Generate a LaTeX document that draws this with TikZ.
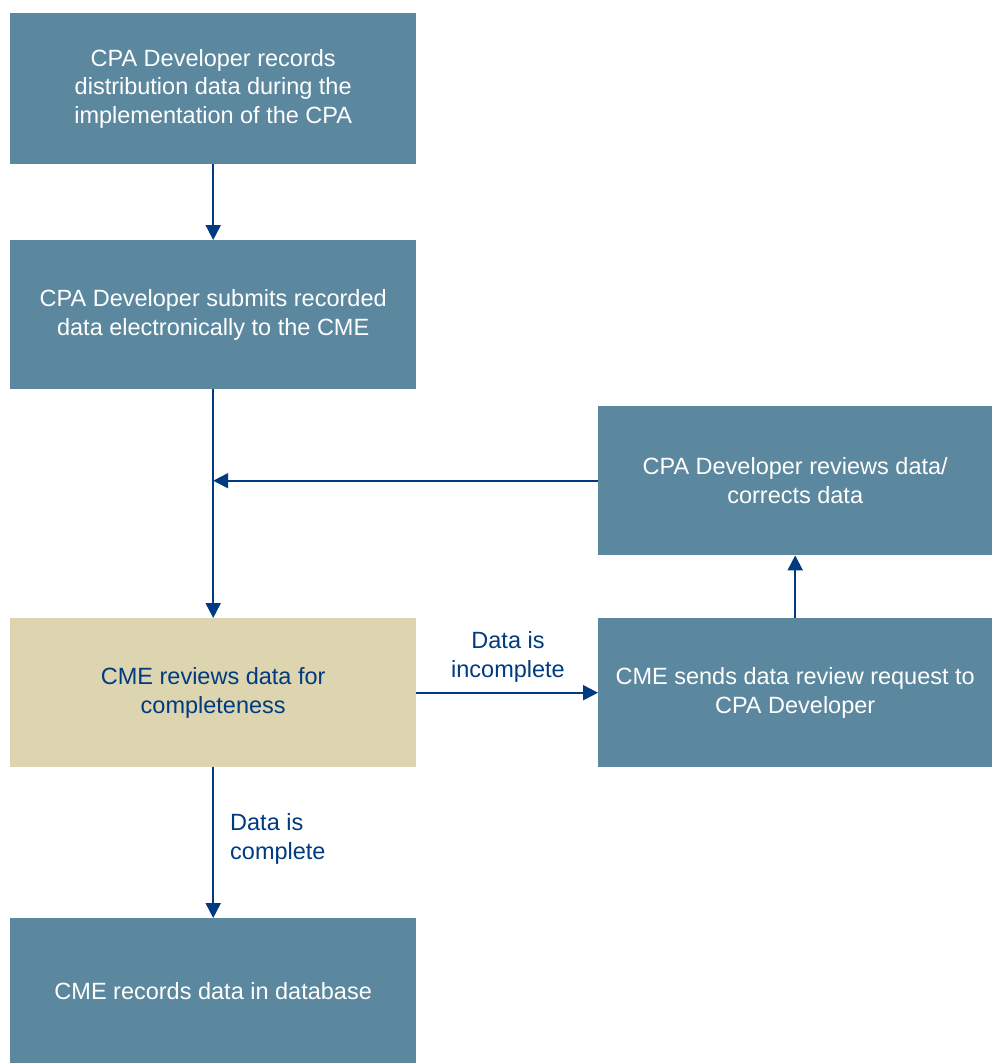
\documentclass[tikz,border=0pt]{standalone}
\usepackage{fontspec}
\setmainfont{Liberation Sans}
\usetikzlibrary{arrows.meta}
\definecolor{boxblue}{HTML}{5C889F}
\definecolor{boxbeige}{HTML}{DDD5B0}
\definecolor{navy}{HTML}{003A80}
\tikzset{
  stepbox/.style={rectangle, fill=boxblue, text=white, draw=none, anchor=north west,
    align=center, font=\fontsize{23.5}{28.5}\selectfont, inner sep=0pt},
  beigebox/.style={stepbox, fill=boxbeige, text=navy},
  conn/.style={draw=navy, line width=2pt, -{Triangle[length=15pt,width=15pt]}},
  lbl/.style={text=navy, font=\fontsize{23.5}{28.5}\selectfont, inner sep=0pt}
}
\begin{document}
\begin{tikzpicture}[x=1pt,y=-1pt]
\useasboundingbox (0,0) rectangle (992,1063);
\node[stepbox, minimum width=406pt, minimum height=151pt] (b1) at (10,13)
  {CPA Developer records\\distribution data during the\\implementation of the CPA};
\node[stepbox, minimum width=406pt, minimum height=149pt] (b2) at (10,240)
  {CPA Developer submits recorded\\data electronically to the CME};
\node[stepbox, minimum width=394pt, minimum height=149pt] (b3) at (598,406)
  {CPA Developer reviews data/\\corrects data};
\node[beigebox, minimum width=406pt, minimum height=149pt] (b4) at (10,618)
  {CME reviews data for\\completeness};
\node[stepbox, minimum width=394pt, minimum height=149pt] (b5) at (598,618)
  {CME sends data review request to\\CPA Developer};
\node[stepbox, minimum width=406pt, minimum height=145pt] (b6) at (10,918)
  {CME records data in database};
\coordinate (j) at (b2.south |- b3.west);
\draw[conn] (b1.south) -- (b2.north);
\draw[conn] (b2.south) -- (b4.north);
\draw[conn] (b3.west) -- (j);
\draw[conn] (b4.east) -- (b5.west);
\draw[conn] (b5.north) -- (b3.south);
\draw[conn] (b4.south) -- (b6.north);
\node[lbl, align=center] (l1) at (508,657) {Data is\\incomplete};
\node[lbl, align=left, anchor=west] (l2) at (230,839) {Data is\\complete};
\end{tikzpicture}
\end{document}
